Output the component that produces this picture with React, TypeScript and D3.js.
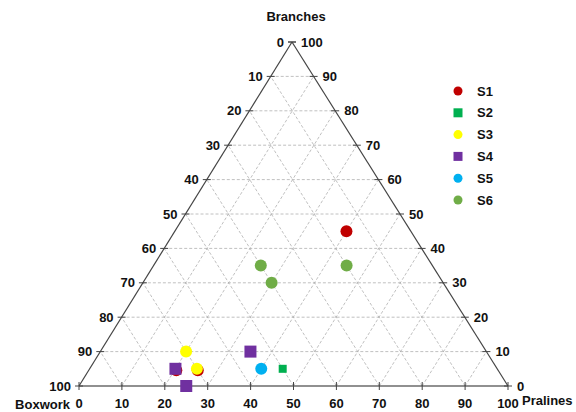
import React from "react";
import * as d3 from "d3";

const ticks = [0, 10, 20, 30, 40, 50, 60, 70, 80, 90, 100];
const gridVals = [10, 20, 30, 40, 50, 60, 70, 80, 90];

// series: [pralines, branches]
const s1: [number, number][] = [[40, 45], [20.4, 4.6], [25.4, 4.6]];
const s2: [number, number][] = [[45, 5]];
const s3: [number, number][] = [[20, 10], [25, 5]];
const s4: [number, number][] = [[20, 5], [35, 10], [25, 0]];
const s5: [number, number][] = [[40, 5]];
const s6: [number, number][] = [[25, 35], [45, 35], [30, 30]];

const seriesNames = ["S1", "S2", "S3", "S4", "S5", "S6"];
const seriesData = [s1, s2, s3, s4, s5, s6];
const seriesColors = ["#c00000", "#00b050", "#ffff00", "#7030a0", "#00b0f0", "#70ad47"];
const seriesShapes = ["circle", "square", "circle", "square", "circle", "circle"];
const seriesSizes = [12, 8, 12, 12, 12, 12];

const A = { x: 79, y: 386 }; // Boxwork 100
const B = { x: 508, y: 386 }; // Pralines 100
const C = { x: 292, y: 42 }; // Branches 100

const fx = d3.scaleLinear().domain([0, 100]).range([0, 1]);

function pt(pr: number, br: number) {
  const p = fx(pr), b = fx(br), a = 1 - p - b;
  return { x: a * A.x + p * B.x + b * C.x, y: a * A.y + p * B.y + b * C.y };
}

function Marker({ shape, x, y, size, color }: any) {
  if (shape === "circle") return <circle cx={x} cy={y} r={size / 2} fill={color} />;
  return <rect x={x - size / 2} y={y - size / 2} width={size} height={size} fill={color} />;
}

export default function App() {
  const font = "Liberation Sans, Arial, sans-serif";
  const fs = 13;
  const lines: any[] = [];
  gridVals.forEach((v) => {
    lines.push([pt(0, v), pt(100 - v, v)]);
    lines.push([pt(v, 0), pt(v, 100 - v)]);
    lines.push([pt(100 - v, 0), pt(0, 100 - v)]);
  });
  return (
    <svg width={576} height={412} style={{ position: "absolute", left: 0, top: 0 }}>
      <rect width={576} height={412} fill="#fff" />
      {lines.map((l, i) => (
        <line key={i} x1={l[0].x} y1={l[0].y} x2={l[1].x} y2={l[1].y}
          stroke="#b0b0b0" strokeWidth={0.8} strokeDasharray="3,2" />
      ))}
      <line x1={A.x} y1={A.y} x2={C.x} y2={C.y} stroke="#444" strokeWidth={1.2} />
      <line x1={C.x} y1={C.y} x2={B.x} y2={B.y} stroke="#444" strokeWidth={1.2} />
      <line x1={A.x} y1={A.y} x2={B.x} y2={B.y} stroke="#222" strokeWidth={1.2} />
      {ticks.map((t) => {
        const bp = pt(t, 0);
        const lp = pt(0, 100 - t);
        const rp = pt(100 - t, t);
        return (
          <g key={t}>
            <line x1={bp.x} y1={bp.y - 4} x2={bp.x} y2={bp.y + 4} stroke="#444" />
            <line x1={lp.x - 4} y1={lp.y} x2={lp.x + 4} y2={lp.y} stroke="#444" />
            <line x1={rp.x - 4} y1={rp.y} x2={rp.x + 4} y2={rp.y} stroke="#444" />
            <text x={bp.x} y={bp.y + 22} textAnchor="middle" fontFamily={font} fontWeight="bold" fontSize={fs} fill="#111">{t}</text>
            <text x={lp.x - 8} y={lp.y + 4.5} textAnchor="end" fontFamily={font} fontWeight="bold" fontSize={fs} fill="#111">{t}</text>
            <text x={rp.x + 9} y={rp.y + 4.5} textAnchor="start" fontFamily={font} fontWeight="bold" fontSize={fs} fill="#111">{t}</text>
          </g>
        );
      })}
      <text x={296} y={21} textAnchor="middle" fontFamily={font} fontWeight="bold" fontSize={fs} fill="#111">Branches</text>
      <text x={70} y={409} textAnchor="end" fontFamily={font} fontWeight="bold" fontSize={fs} fill="#111">Boxwork</text>
      <text x={522} y={405} textAnchor="start" fontFamily={font} fontWeight="bold" fontSize={fs} fill="#111">Pralines</text>
      {seriesData.map((data, si) =>
        data.map((d, i) => {
          const p = pt(d[0], d[1]);
          return <Marker key={si + "-" + i} shape={seriesShapes[si]} x={p.x} y={p.y} size={seriesSizes[si]} color={seriesColors[si]} />;
        })
      )}
      {seriesNames.map((n, i) => {
        const y = 91 + i * 21.8;
        return (
          <g key={n}>
            <Marker shape={seriesShapes[i]} x={458} y={y} size={9} color={seriesColors[i]} />
            <text x={477} y={y + 4.5} fontFamily={font} fontWeight="bold" fontSize={fs} fill="#111">{n}</text>
          </g>
        );
      })}
    </svg>
  );
}
